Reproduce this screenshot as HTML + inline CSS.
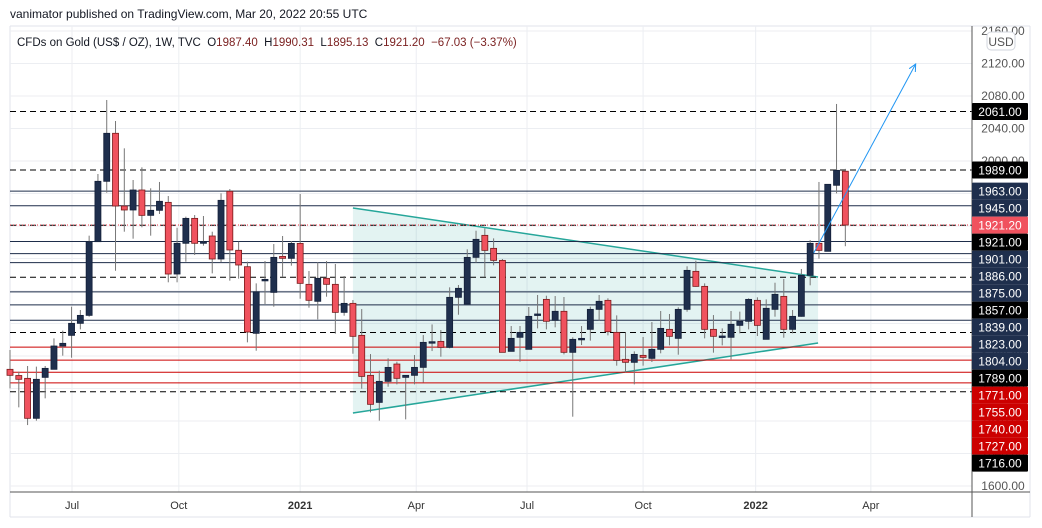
<!DOCTYPE html>
<html><head><meta charset="utf-8">
<style>
body{margin:0;background:#fff;font-family:"Liberation Sans",sans-serif;}
svg{display:block}
</style></head>
<body>
<svg id="chart" width="1042" height="528" viewBox="0 0 1042 528" xmlns="http://www.w3.org/2000/svg">
<rect x="0" y="0" width="1042" height="528" fill="#fff"/>
<text x="10" y="18" font-size="12" fill="#131722">vanimator published on TradingView.com, Mar 20, 2022 20:55 UTC</text>
<line x1="10" y1="26" x2="1030" y2="26" stroke="#e0e3eb"/>
<line x1="10" y1="26" x2="10" y2="517" stroke="#e0e3eb"/>
<line x1="1030" y1="26" x2="1030" y2="517" stroke="#e0e3eb"/>
<line x1="10" y1="517" x2="1030" y2="517" stroke="#e0e3eb"/>
<g id="grid"></g>
<g id="triangle"></g>
<g id="hlines"></g>
<g id="candles"></g>
<g id="arrow"></g>
<line x1="972" y1="26" x2="972" y2="517" stroke="#555"/>
<line x1="10" y1="492" x2="1030" y2="492" stroke="#555"/>
<g id="yaxis"></g>
<g id="xaxis"></g>
<g id="labels"></g>
<rect x="987" y="32" width="28" height="18" rx="4" fill="#fff" stroke="#d1d4dc"/>
<text x="1001" y="46" font-size="12" fill="#555" text-anchor="middle">USD</text>
<text x="17" y="46" font-size="11.5" fill="#131722" style="white-space:pre">CFDs on Gold (US$ / OZ), 1W, TVC  O<tspan fill="#7a1f1f">1987.40</tspan>  H<tspan fill="#7a1f1f">1990.31</tspan>  L<tspan fill="#7a1f1f">1895.13</tspan>  C<tspan fill="#7a1f1f">1921.20</tspan>  <tspan fill="#7a1f1f">−67.03 (−3.37%)</tspan></text>
</svg>
<script>
const opens=[1743.6,1736,1732.5,1683.3,1733.7,1743.6,1772.3,1785.4,1800.2,1810,1900.7,1975,2034.1,1944.6,1939.7,1964.3,1933.1,1939.3,1949.1,1860.9,1898.7,1929.4,1898.7,1907.7,1879.4,1962.7,1890.1,1869.9,1787.9,1853.5,1838.3,1882.6,1880.2,1898.6,1848.2,1827.3,1855.6,1848.2,1813.7,1824.8,1785.4,1736.2,1702.9,1728.8,1750.1,1733.7,1736.2,1746,1776.8,1778,1770.6,1832.2,1824,1881.4,1908.5,1892.5,1877.7,1765.7,1783,1768.2,1810,1829.7,1803.9,1815,1764.5,1780.9,1792.8,1817.4,1828.5,1789.1,1755.9,1752.2,1760.8,1757.1,1768.2,1792.8,1781.7,1817.4,1864.2,1845.7,1792.8,1784.2,1783,1797.7,1802.7,1828.5,1780.5,1817.4,1833.4,1792.8,1808.8,1859.3,1898.7,1888.8,1970.1,1987.4];
const highs=[1767.4,1740.7,1747.7,1746.9,1747.7,1781.7,1791.2,1820.7,1816.6,1908.1,1984,2075.1,2049.2,2015.6,1976.6,1992.2,1966.4,1974.2,1956.9,1917.9,1931.5,1933.5,1932.3,1913,1960.2,1965.5,1900.7,1876.1,1849.4,1876.9,1897.8,1907.7,1901.5,1959.4,1864.6,1875.3,1876.9,1873.2,1858.4,1828.9,1817.8,1762.4,1741.9,1757.1,1753,1736.2,1761.2,1785.8,1798.9,1792,1844.5,1847.4,1891.3,1914.2,1917.1,1904.8,1879.4,1796.9,1796.9,1820.3,1835.1,1834.2,1833.8,1832.6,1783,1796.9,1820.7,1835.1,1831,1810,1789.1,1765.7,1783.4,1801.8,1815.4,1811.7,1819.9,1870.4,1877.3,1849.4,1810.4,1794,1815.4,1814.6,1831,1832.2,1829.7,1850.2,1854.8,1816.6,1867.1,1902.8,1974.2,1971.3,2070.2,1990.31];
const lows=[1720.2,1696.8,1675,1680.4,1707.9,1743.6,1760.4,1757.9,1792.8,1808.4,1900.7,1961,1865,1913,1904.4,1918.4,1908.1,1934.8,1850.7,1850.7,1876.1,1884.3,1895.8,1861.7,1875.3,1852.7,1855.2,1776.8,1766.5,1824,1820.7,1857.6,1871.2,1830.5,1819.5,1805.1,1833,1787.5,1809.6,1762.8,1719.8,1690.6,1680.4,1722.2,1725.1,1682,1725.1,1727.5,1766.1,1759.1,1769.4,1810.8,1824,1874.8,1857.6,1871.6,1764.5,1765.7,1753,1768.2,1794,1792.8,1795.3,1762,1685.3,1773.5,1778.9,1803.5,1785.4,1748.1,1739.9,1725.1,1748.1,1752.6,1763.3,1773.1,1761.6,1814.5,1845.3,1781.7,1764.1,1773.1,1755.9,1787.9,1792.8,1784.6,1780.5,1808.4,1782.5,1787.9,1808.4,1847,1879.8,1888.8,1960.2,1895.13];
const closes=[1736.2,1731.3,1683.3,1731.3,1744.8,1772.3,1775.6,1800.2,1810,1900.7,1975,2034.1,1944.6,1939.7,1964.3,1933.1,1939.3,1950.4,1860.9,1898.7,1929.4,1898.7,1900.7,1879.4,1951.6,1890.5,1872,1789.5,1839.1,1854.3,1881.4,1880.2,1898.6,1849.4,1828.5,1855.6,1848.2,1813.7,1824.8,1784.2,1734.9,1700.5,1728.8,1746,1732.5,1736.2,1746,1776.8,1777.6,1770.6,1832.2,1843.3,1881.4,1903.6,1890,1877.7,1764.5,1781.7,1789.1,1808.8,1811.7,1802.7,1815,1764.5,1780.5,1781.7,1817.4,1827.3,1789.9,1754.6,1752.2,1762,1758.3,1768.2,1794,1784.2,1817.4,1865.4,1845.7,1792.8,1784.2,1784.6,1799,1802.7,1829.7,1797.7,1818.7,1835.9,1792.8,1808.8,1859.3,1898.7,1890,1971.3,1988.5,1921.2];
const levelPrices=[2061,1989,1963,1945,1921,1901,1886,1875,1857,1839,1823,1804,1789,1771,1755,1740,1727,1716];
const levelKinds=["dash","dash","navy","navy","dash","navy","navy","navy","dash","navy","navy","navy","dash","red","red","red","red","dash"];
const priceTicks=[2160,2120,2080,2040,2000,1960,1920,1880,1840,1800,1760,1720,1680,1640,1600];
const timeLabels=["Jul","Oct","2021","Apr","Jul","Oct","2022","Apr"];
const timeLabelIdx=[7.05,19.2,33.0,46.2,58.8,72.0,84.8,97.9];
const triangleIdx=[39.0,91.9,91.9,39.0];
const trianglePrices=[1942.2,1857.2,1776,1689.8];
const arrowIdx=[91.4,103.0];
const arrowPrices=[1886.8,2119.4];
const lastPrice=1921.2;

const NS="http://www.w3.org/2000/svg";
function yScale(p){return 161+(2000-p)*0.8125;}
function xScale(i){return 10+i*8.793;}
function mk(tag,attrs,parent){const e=document.createElementNS(NS,tag);for(const k in attrs)e.setAttribute(k,attrs[k]);parent.appendChild(e);return e;}

const grid=document.getElementById('grid');
priceTicks.forEach(p=>{const l=mk('line',{x1:10,x2:972,y1:yScale(p),y2:yScale(p),stroke:'#eceef2'},grid);

});
timeLabelIdx.forEach(i=>{const l=mk('line',{x1:xScale(i),x2:xScale(i),y1:26,y2:492,stroke:'#eceef2'},grid);

});

const tri=document.getElementById('triangle');
const pts=triangleIdx.map((i,k)=>xScale(i)+','+yScale(trianglePrices[k])).join(' ');
const tp=mk('polygon',{points:pts,fill:'rgba(0,150,136,0.11)'},tri);


const e1=mk('line',{x1:xScale(triangleIdx[0]),y1:yScale(trianglePrices[0]),x2:xScale(triangleIdx[1]),y2:yScale(trianglePrices[1]),stroke:'#26a69a','stroke-width':1.5},tri);


const e2=mk('line',{x1:xScale(triangleIdx[3]),y1:yScale(trianglePrices[3]),x2:xScale(triangleIdx[2]),y2:yScale(trianglePrices[2]),stroke:'#26a69a','stroke-width':1.5},tri);



const hl=document.getElementById('hlines');
const colorOf={dash:'#000',navy:'#1e2d4a',red:'#cc0000'};
levelPrices.forEach((p,k)=>{const kind=levelKinds[k];
const a={x1:10,x2:972,y1:yScale(p),y2:yScale(p),stroke:colorOf[kind],'stroke-width':1};
if(kind==='dash')a['stroke-dasharray']='6,4';
const l=mk('line',a,hl);

});
const cl=mk('line',{x1:10,x2:972,y1:yScale(lastPrice),y2:yScale(lastPrice),stroke:'#f23645','stroke-dasharray':'1,2'},hl);



const cg=document.getElementById('candles');
opens.forEach((o,i)=>{const c=closes[i],h=highs[i],l=lows[i];const x=xScale(i);const up=c>=o;
const g=mk('g',{},cg);


mk('line',{x1:x,x2:x,y1:yScale(h),y2:yScale(l),stroke:'#777','stroke-width':1},g);
const top=yScale(Math.max(o,c)),bot=yScale(Math.min(o,c));
mk('rect',{x:x-3,y:top,width:6,height:Math.max(1.5,bot-top),fill:up?'#1f2f4d':'#f0525e',stroke:up?'#14203a':'#7a1a1a','stroke-width':0.8},g);});

const ar=document.getElementById('arrow');
const ax1=xScale(arrowIdx[0]),ay1=yScale(arrowPrices[0]),ax2=xScale(arrowIdx[1]),ay2=yScale(arrowPrices[1]);
const al=mk('line',{x1:ax1,y1:ay1,x2:ax2,y2:ay2,stroke:'#2196f3','stroke-width':1},ar);


const ang=Math.atan2(ay2-ay1,ax2-ax1);
const hp=mk('polyline',{points:(ax2-8*Math.cos(ang-0.45))+','+(ay2-8*Math.sin(ang-0.45))+' '+ax2+','+ay2+' '+(ax2-8*Math.cos(ang+0.45))+','+(ay2-8*Math.sin(ang+0.45)),fill:'none',stroke:'#2196f3','stroke-width':1},ar);



const ya=document.getElementById('yaxis');
priceTicks.forEach(p=>{const t=mk('text',{x:1003,y:yScale(p)+4,'font-size':12,fill:'#555','text-anchor':'middle'},ya);t.textContent=p.toFixed(2);

});

const xa=document.getElementById('xaxis');
timeLabels.forEach((s,k)=>{const t=mk('text',{x:xScale(timeLabelIdx[k]),y:509,'font-size':11,fill:'#333','text-anchor':'middle','font-weight':(s.length===4?'bold':'normal')},xa);t.textContent=s;

});

const lb=document.getElementById('labels');
const items=levelPrices.map((p,k)=>({p:p,bg:levelKinds[k]==='dash'?'#000':levelKinds[k]==='navy'?'#1f2f4d':'#cc0000'}));
items.push({p:lastPrice,bg:'#f0525e',last:true});
items.sort((a,b)=>b.p-a.p||(b.last?1:-1));
let prev=-100;
items.forEach(it=>{let y=Math.max(yScale(it.p),prev+17);prev=y;
const g=mk('g',{},lb);


mk('rect',{x:972,y:y-8.5,width:56,height:17,fill:it.bg,rx:1},g);
const t=mk('text',{x:1000,y:y+4.5,'font-size':12,fill:'#fff','text-anchor':'middle'},g);t.textContent=it.p.toFixed(2);});
</script>
</body></html>
